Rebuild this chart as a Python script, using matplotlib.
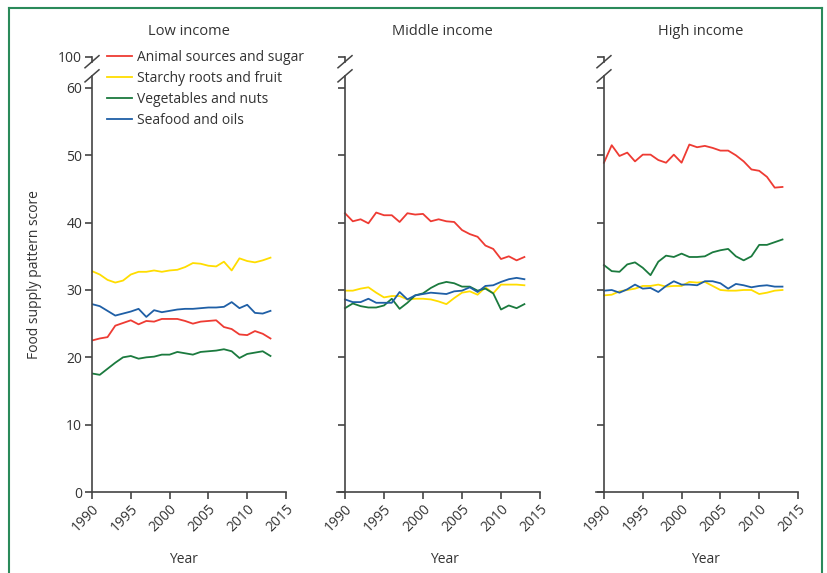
import numpy as np
import matplotlib
matplotlib.use('Agg')
import matplotlib.pyplot as plt
from matplotlib.lines import Line2D

plt.rcParams['font.family'] = ['Open Sans', 'DejaVu Sans']

years = np.arange(1990, 2014)
panel_titles = ['Low income', 'Middle income', 'High income']
series_names = ['Animal sources and sugar', 'Starchy roots and fruit',
                'Vegetables and nuts', 'Seafood and oils']
colors = ['#ee3b33', '#ffdd00', '#1b7a3e', '#1f5fa6']

low_animal = [22.5, 22.8, 23.0, 24.7, 25.1, 25.5, 24.9, 25.4, 25.3, 25.7, 25.7, 25.7,
              25.4, 25.0, 25.3, 25.4, 25.5, 24.5, 24.2, 23.4, 23.3, 23.9, 23.5, 22.8]
low_starchy = [32.8, 32.3, 31.5, 31.1, 31.4, 32.3, 32.7, 32.7, 32.9, 32.7, 32.9, 33.0,
               33.4, 34.0, 33.9, 33.6, 33.5, 34.2, 32.9, 34.7, 34.3, 34.1, 34.4, 34.8]
low_veg = [17.6, 17.4, 18.3, 19.2, 20.0, 20.2, 19.8, 20.0, 20.1, 20.4, 20.4, 20.8,
           20.6, 20.4, 20.8, 20.9, 21.0, 21.2, 20.9, 19.9, 20.5, 20.7, 20.9, 20.2]
low_sea = [27.9, 27.6, 26.9, 26.2, 26.5, 26.8, 27.2, 26.0, 27.0, 26.7, 26.9, 27.1,
           27.2, 27.2, 27.3, 27.4, 27.4, 27.5, 28.2, 27.3, 27.8, 26.6, 26.5, 26.9]

mid_animal = [41.4, 40.2, 40.5, 39.9, 41.5, 41.1, 41.1, 40.1, 41.4, 41.2, 41.3, 40.2,
              40.5, 40.2, 40.1, 38.9, 38.3, 37.9, 36.6, 36.1, 34.6, 35.0, 34.4, 34.9]
mid_starchy = [29.9, 29.9, 30.2, 30.4, 29.6, 28.9, 29.1, 29.1, 28.6, 28.7, 28.7, 28.6,
               28.3, 27.9, 28.8, 29.6, 29.8, 29.3, 30.4, 29.5, 30.8, 30.8, 30.8, 30.7]
mid_veg = [27.3, 28.0, 27.6, 27.4, 27.4, 27.7, 28.7, 27.2, 28.1, 29.2, 29.5, 30.3,
           30.9, 31.2, 31.0, 30.5, 30.5, 29.9, 30.2, 29.5, 27.1, 27.7, 27.3, 27.9]
mid_sea = [28.6, 28.2, 28.2, 28.7, 28.1, 28.1, 28.1, 29.7, 28.6, 29.2, 29.4, 29.6,
           29.5, 29.4, 29.8, 29.9, 30.4, 29.7, 30.6, 30.7, 31.2, 31.6, 31.8, 31.6]

high_animal = [48.9, 51.5, 49.9, 50.4, 49.1, 50.1, 50.1, 49.3, 48.9, 50.1, 48.9, 51.6,
               51.2, 51.4, 51.1, 50.7, 50.7, 50.0, 49.1, 47.9, 47.7, 46.8, 45.2, 45.3]
high_starchy = [29.2, 29.3, 29.8, 30.0, 30.2, 30.6, 30.6, 30.8, 30.5, 30.6, 30.6, 31.2,
                31.1, 31.2, 30.6, 30.0, 29.9, 29.9, 30.0, 30.0, 29.4, 29.6, 29.9, 30.0]
high_veg = [33.7, 32.8, 32.7, 33.8, 34.1, 33.3, 32.2, 34.2, 35.1, 34.9, 35.4, 34.9,
            34.9, 35.0, 35.6, 35.9, 36.1, 35.0, 34.4, 35.0, 36.7, 36.7, 37.1, 37.5]
high_sea = [29.9, 30.0, 29.6, 30.1, 30.8, 30.2, 30.3, 29.7, 30.6, 31.3, 30.8, 30.8,
            30.7, 31.3, 31.3, 31.0, 30.2, 30.9, 30.7, 30.4, 30.6, 30.7, 30.5, 30.5]

panels = [
    [low_animal, low_starchy, low_veg, low_sea],
    [mid_animal, mid_starchy, mid_veg, mid_sea],
    [high_animal, high_starchy, high_veg, high_sea],
]

y_ticks = [0, 10, 20, 30, 40, 50, 60]
x_ticks = [1990, 1995, 2000, 2005, 2010, 2015]
top_val = 64.6      # where the "100" tick sits above the break
brk_hi, brk_lo = 63.9, 61.8

txt = '#333333'
axc = '#444444'

fig = plt.figure(figsize=(8.28, 5.73), dpi=100)

W, H = 828., 573.
lefts = [92, 337.2, 596.2]
rights = [286, 540, 798]
x_lo = [1990, 1989, 1989]
year_x = [0.474, 0.53, 0.544]
bottom = (H - 492) / H
height = (492 - 57) / H

for i in range(3):
    left_px = lefts[i]
    right_px = rights[i]
    ax = fig.add_axes([left_px / W, bottom, (right_px - left_px) / W, height])
    for s, col, name in zip(panels[i], colors, series_names):
        ax.plot(years, s, color=col, lw=1.3, label=name)
    ax.set_xlim(x_lo[i], 2015)
    ax.set_ylim(0, top_val)

    for sp in ['top', 'right']:
        ax.spines[sp].set_visible(False)
    ax.spines['left'].set_position(('data', 1990))
    ax.spines['left'].set_bounds(0, brk_lo)
    for sp in ['left', 'bottom']:
        ax.spines[sp].set_color(axc)
        ax.spines[sp].set_linewidth(1.2)

    # little bit of spine above the break plus the two slashes
    ax.plot([1990, 1990], [brk_hi, top_val], color=axc, lw=1.2, clip_on=False)
    for yb in [brk_hi, brk_lo]:
        ax.plot([1990 - 0.9, 1990 + 0.9], [yb - 0.9, yb + 0.9], color=axc,
                lw=1.1, clip_on=False)

    ax.set_yticks(y_ticks + [top_val])
    if i == 0:
        ax.set_yticklabels([str(t) for t in y_ticks] + ['100'])
    else:
        ax.set_yticklabels([])
    ax.set_xticks(x_ticks)
    ax.set_xticklabels([str(t) for t in x_ticks], rotation=45, ha='right',
                       va='top', rotation_mode='anchor')
    ax.tick_params(direction='out', length=5, width=1.2, color=axc,
                   labelcolor=txt, labelsize=10, pad=2)
    ax.set_xlabel('Year', color=txt, fontsize=10)
    ax.xaxis.set_label_coords(year_x[i], -60 / 435.)
    title_x = (2002.5 - x_lo[i]) / (2015 - x_lo[i])
    ax.set_title(panel_titles[i], color=txt, fontsize=10.5, pad=16, x=title_x)
    if i == 0:
        ax.set_ylabel('Food supply pattern score', color=txt, fontsize=10,
                      labelpad=12)
        ax.legend(loc='upper left', bbox_to_anchor=(107 / W, 1 - 50 / H),
                  bbox_transform=fig.transFigure, frameon=False, fontsize=10,
                  handlelength=1.8, handletextpad=0.35, labelspacing=0.42,
                  borderpad=0, borderaxespad=0, labelcolor=txt)

# green frame around the figure (open at the bottom)
bc = '#2a8a5a'
xl, xr, yt = 9 / W, 822 / W, 1 - 8 / H
fig.add_artist(Line2D([xl, xl], [0, yt], color=bc, lw=1.5))
fig.add_artist(Line2D([xl, xr], [yt, yt], color=bc, lw=1.5))
fig.add_artist(Line2D([xr, xr], [0, yt], color=bc, lw=1.5))

fig.savefig('out.png', dpi=100)
